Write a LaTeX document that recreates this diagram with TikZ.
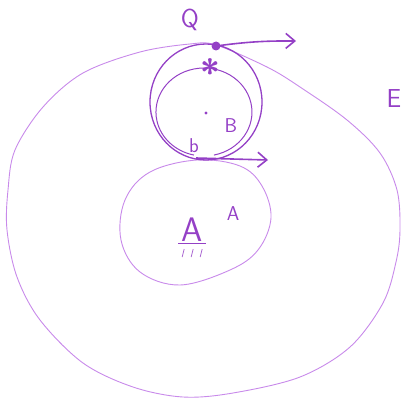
\documentclass[tikz,border=0pt]{standalone}
\usepackage{tikz}
\usetikzlibrary{arrows.meta,calc}
\definecolor{skPurple}{HTML}{9440C6}
\definecolor{skLilac}{HTML}{C88AEA}

\begin{document}
\begin{tikzpicture}[x=1pt,y=-1pt,
  lbl/.style={text=skPurple,font=\sffamily\fontsize{26}{28}\selectfont,inner sep=0pt},
  small/.style={lbl,font=\sffamily\fontsize{20}{22}\selectfont},
  rim/.style={draw=skLilac,line width=0.9pt},
  loopline/.style={draw=skPurple,line width=1.3pt},
  ar/.style={-{Straight Barb[length=9pt,width=15pt]},draw=skPurple,line width=1.6pt}]

\useasboundingbox (0,0) rectangle (409,401);

% outer region E
\draw[rim] plot[smooth cycle,tension=0.55] coordinates {
  (216,45) (267,67) (300,87) (347,120) (380,153) (397,190) (400,230)
  (396,262) (383,303) (350,347) (300,377) (233,393) (183,397) (133,387)
  (83,363) (40,320) (17,277) (7,230) (8,190) (15,150) (43,107) (83,73)
  (140,52) (190,44)};

% region A
\draw[rim] plot[smooth cycle,tension=0.6] coordinates {
  (197,160) (240,166) (262,186) (271,218) (258,250) (230,270)
  (180,285) (140,272) (121,240) (125,200) (150,172)};

% circle B, drawn twice
\draw[loopline] (206,102) ellipse [x radius=56,y radius=58];
\draw[loopline,line width=1pt] (205,113) ++(78:43) arc[start angle=78,end angle=-258,x radius=48,y radius=44];

\coordinate (q) at (216,46);
\coordinate (qTip) at (296,41);
\coordinate (b) at (196,158);
\coordinate (bTip) at (268,160);

\fill[skPurple] (q) circle (4.5);
\fill[skPurple] (206,113) circle (1.6);

\node[lbl] (Qlbl) at (190,20) {Q};
\node[lbl] (Elbl) at (394,99) {E};
\node[small] (Blbl) at (231,126) {B};
\node[small] (blbl) at (194,146) {b};
\node[lbl,font=\sffamily\bfseries\fontsize{36}{36}\selectfont] (star) at (210,72) {*};
\node[lbl,font=\sffamily\fontsize{34}{34}\selectfont] (Abig) at (192,230) {A};
\node[small] (Asup) at (233,214) {A};

% base line and hatching under A
\draw[skPurple,line width=1pt] ($(Abig.south west)+(-3,1)$) -- ($(Abig.south east)+(3,1)$);
\foreach \dx in {3,12,21}
  \draw[skPurple!80,line width=0.8pt] ($(Abig.south west)+(\dx,7)$) -- ++(-2,8);

\draw[ar] (q) to[bend left=4] (qTip);
\draw[ar] (b) -- (bTip);
\end{tikzpicture}
\end{document}
